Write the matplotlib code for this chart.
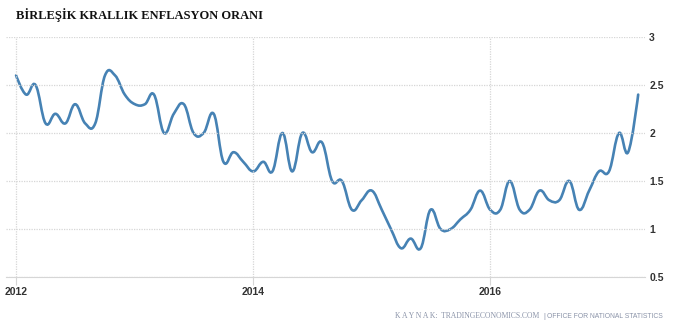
import numpy as np
import pandas as pd
import matplotlib
matplotlib.use("Agg")
import matplotlib.pyplot as plt
import matplotlib.dates as mdates
from matplotlib.path import Path
from matplotlib.patches import PathPatch

# monthly values, Jan 2012 - Apr 2017
months = pd.date_range("2012-01-01", "2017-04-01", freq="MS")
inflation = [2.6, 2.4, 2.5, 2.1, 2.2, 2.1, 2.3, 2.1, 2.1, 2.6, 2.6, 2.4,
             2.3, 2.3, 2.4, 2.0, 2.2, 2.3, 2.0, 2.0, 2.2, 1.7, 1.8, 1.7,
             1.6, 1.7, 1.6, 2.0, 1.6, 2.0, 1.8, 1.9, 1.5, 1.5, 1.2, 1.3,
             1.4, 1.2, 1.0, 0.8, 0.9, 0.8, 1.2, 1.0, 1.0, 1.1, 1.2, 1.4,
             1.2, 1.2, 1.5, 1.2, 1.2, 1.4, 1.3, 1.3, 1.5, 1.2, 1.4, 1.6,
             1.6, 2.0, 1.8, 2.4]
year_ticks = ["2012-01-01", "2014-01-01", "2016-01-01"]
year_labels = ["2012", "2014", "2016"]
y_ticks = [0.5, 1, 1.5, 2, 2.5, 3]
y_labels = ["0.5", "1", "1.5", "2", "2.5", "3"]

title = "BİRLEŞİK KRALLIK ENFLASYON ORANI"
source_a = "K A Y N A K:  TRADINGECONOMICS.COM"
source_b = "OFFICE FOR NATIONAL STATISTICS"

line_color = "#4682b4"
grid_color = "#d6d6d6"
label_color = "#333333"
source_color = "#8a93a8"


def spline_path(xs, ys, smoothing=1.5):
    # smoothed spline through the points as cubic bezier segments
    n = len(xs)
    lc = [None] * n
    rc = [None] * n
    denom = smoothing + 1
    for i in range(1, n - 1):
        px, py = xs[i], ys[i]
        lx, ly = xs[i - 1], ys[i - 1]
        nx, ny = xs[i + 1], ys[i + 1]
        lcx = (smoothing * px + lx) / denom
        lcy = (smoothing * py + ly) / denom
        rcx = (smoothing * px + nx) / denom
        rcy = (smoothing * py + ny) / denom
        corr = (rcy - lcy) * (rcx - px) / (rcx - lcx) + py - rcy
        lc[i] = (lcx, lcy + corr)
        rc[i] = (rcx, rcy + corr)
    verts = [(xs[0], ys[0])]
    codes = [Path.MOVETO]
    for i in range(1, n):
        c1 = rc[i - 1] if rc[i - 1] is not None else (xs[i - 1], ys[i - 1])
        c2 = lc[i] if lc[i] is not None else (xs[i], ys[i])
        verts += [c1, c2, (xs[i], ys[i])]
        codes += [Path.CURVE4] * 3
    return Path(verts, codes)


fig = plt.figure(figsize=(6.78, 3.3), dpi=100)
ax = fig.add_axes([6 / 678, 53 / 330, 639 / 678, 240 / 330])

x = mdates.date2num(months)
path = spline_path(list(x), list(inflation))
ax.add_patch(PathPatch(path, facecolor="none", edgecolor=line_color,
                       lw=1.9, capstyle="round", joinstyle="round"))

ax.set_xlim(mdates.date2num(pd.Timestamp("2011-12-01")),
            mdates.date2num(pd.Timestamp("2017-04-22")))
ax.set_ylim(0.5, 3)

ax.set_xticks(mdates.date2num(pd.to_datetime(year_ticks)))
ax.set_xticklabels(year_labels)
ax.set_yticks(y_ticks)
ax.set_yticklabels(y_labels)
ax.yaxis.tick_right()

for s in ["top", "left", "right"]:
    ax.spines[s].set_visible(False)
ax.spines["bottom"].set_color(grid_color)
ax.spines["bottom"].set_linewidth(0.8)

ax.grid(axis="y", color=grid_color, linestyle=(0, (1, 1)), linewidth=0.9)
ax.grid(axis="x", color=grid_color, linestyle=(0, (1, 1)), linewidth=0.9)
ax.tick_params(axis="y", length=0, pad=3, labelsize=7.5, labelcolor=label_color)
ax.tick_params(axis="x", length=6, color=grid_color, pad=1, labelsize=7.5,
               labelcolor=label_color)
for lab in ax.get_xticklabels() + ax.get_yticklabels():
    lab.set_fontweight("bold")
    lab.set_family("Liberation Sans")

fig.text(16 / 678, 1 - 15 / 330, title, family="Liberation Serif",
         fontweight="bold", fontsize=9, va="center", ha="left", color="#111111")
fig.text(395 / 678, 1 - 316 / 330, source_a, family="Liberation Serif",
         fontsize=5.5, va="center", ha="left", color=source_color)
fig.text(544 / 678, 1 - 316 / 330, "|", family="Liberation Sans",
         fontsize=5.5, va="center", ha="center", color=source_color)
fig.text(663 / 678, 1 - 316 / 330, source_b, family="Liberation Sans",
         fontsize=4.9, va="center", ha="right", color=source_color)

fig.savefig("out.png", dpi=100)
